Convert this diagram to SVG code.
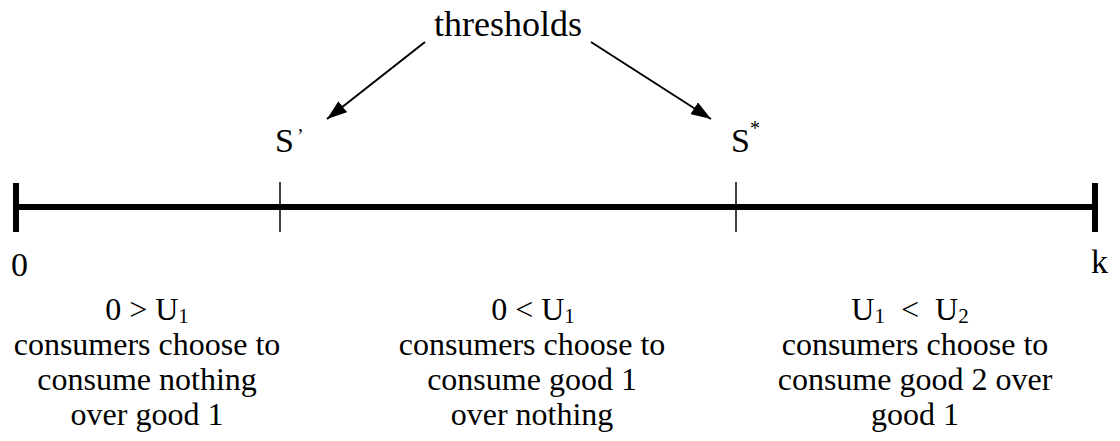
<svg xmlns="http://www.w3.org/2000/svg" width="1120" height="441" viewBox="0 0 1120 441">
<style>
text{font-family:"Liberation Serif","Times New Roman",serif;fill:#000}
.lbl{font-size:34px}
.body{font-size:32px;text-anchor:middle}
.sub{font-size:21px}
.sup{font-size:20px}
.axis{stroke:#000;stroke-width:6;fill:none}
.tick{stroke:#000;stroke-width:1.5;fill:none}
.conn{stroke:#000;stroke-width:2;fill:none}
</style>
<defs>
<marker id="ah" viewBox="0 0 20 14" refX="20" refY="7" markerWidth="20" markerHeight="14" markerUnits="userSpaceOnUse" orient="auto">
<path d="M0,0 L20,7 L0,14 z" fill="#000"/>
</marker>
</defs>
<rect width="1120" height="441" fill="#fff"/>
<g id="axis">
<line class="axis" x1="16" y1="207" x2="1095" y2="207"/>
<line class="axis" x1="16" y1="183" x2="16" y2="232"/>
<line class="axis" x1="1095" y1="183" x2="1095" y2="232"/>
<line class="tick" x1="280" y1="182" x2="280" y2="232"/>
<line class="tick" x1="736" y1="182" x2="736" y2="232"/>
</g>
<g id="thresholds">
<text x="508" y="36" style="font-size:36px" text-anchor="middle">thresholds</text>
</g>
<g id="s-prime">
<text class="lbl" x="275" y="152">S</text>
<text class="sup" x="297" y="143">’</text>
</g>
<g id="s-star">
<text class="lbl" x="731" y="152">S</text>
<text class="sup" x="750" y="135">*</text>
</g>
<g id="label-0"><text class="lbl" x="11" y="276">0</text></g>
<g id="label-k"><text class="lbl" x="1091" y="273">k</text></g>
<g id="region-1">
<text class="body" x="147" y="320">0 &gt; U<tspan class="sub" dy="3">1</tspan></text>
<text class="body" x="147" y="355">consumers choose to</text>
<text class="body" x="147" y="390">consume nothing</text>
<text class="body" x="147" y="425">over good 1</text>
</g>
<g id="region-2">
<text class="body" x="533" y="320">0 &lt; U<tspan class="sub" dy="3">1</tspan></text>
<text class="body" x="532" y="355">consumers choose to</text>
<text class="body" x="532" y="390">consume good 1</text>
<text class="body" x="532" y="425">over nothing</text>
</g>
<g id="region-3">
<text class="body" x="910" y="320">U<tspan class="sub" dy="3">1</tspan><tspan dy="-3" dx="16">&lt;</tspan><tspan dx="16">U</tspan><tspan class="sub" dy="3">2</tspan></text>
<text class="body" x="915" y="355">consumers choose to</text>
<text class="body" x="915" y="390">consume good 2 over</text>
<text class="body" x="915" y="425">good 1</text>
</g>
<g id="connectors">
<line class="conn" x1="425" y1="42" x2="327" y2="119" marker-end="url(#ah)"/>
<line class="conn" x1="591" y1="42" x2="711" y2="119" marker-end="url(#ah)"/>
</g>
</svg>
